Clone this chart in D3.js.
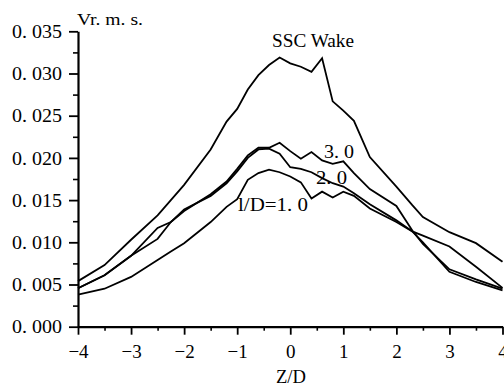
<!DOCTYPE html>
<html>
<head>
<meta charset="utf-8">
<script src="https://cdn.jsdelivr.net/npm/d3@7"></script>
<style>
  html, body { margin: 0; padding: 0; background: #fff; }
  svg { display: block; }
  text { font-family: "Liberation Serif", "DejaVu Serif", serif; fill: #000; }
</style>
</head>
<body>
<div id="chart"></div>
<script>
// Z/D positions shared by all four profiles
const zGrid = [-4, -3.5, -3, -2.5, -2.25, -2, -1.5, -1.2, -1, -0.8, -0.6, -0.4, -0.2, 0,
  0.2, 0.4, 0.6, 0.8, 1, 1.2, 1.5, 2, 2.3, 2.5, 3, 3.5, 4];

const sscWake = [0.0054, 0.0073, 0.0103, 0.0132, 0.0150, 0.0168, 0.0210, 0.0243, 0.0258, 0.0281,
  0.0298, 0.0310, 0.0319, 0.0312, 0.0308, 0.0302, 0.0318, 0.0267, 0.0256, 0.0244,
  0.0201, 0.0166, 0.0144, 0.0130, 0.0112, 0.0099, 0.0077];
const lD30 = [0.00455, 0.0061, 0.0084, 0.0117, 0.0124, 0.0137, 0.0157, 0.0172, 0.0187, 0.0203,
  0.0212, 0.0212, 0.0218, 0.0208, 0.0199, 0.0207, 0.0197, 0.0193, 0.0196, 0.0182,
  0.0163, 0.0143, 0.0114, 0.0098, 0.0068, 0.0056, 0.0045];
const lD20 = [0.00455, 0.0061, 0.0084, 0.0104, 0.0124, 0.0139, 0.0155, 0.0170, 0.0184, 0.0200,
  0.0210, 0.0211, 0.0205, 0.0189, 0.0187, 0.0183, 0.0176, 0.0170, 0.0166, 0.0158,
  0.0145, 0.0126, 0.0113, 0.0100, 0.0065, 0.0053, 0.0043];
const lD10 = [0.0038, 0.0045, 0.0059, 0.0079, 0.0089, 0.0099, 0.0124, 0.0142, 0.0151, 0.0174,
  0.0182, 0.0186, 0.0183, 0.0178, 0.0171, 0.0152, 0.0160, 0.0153, 0.0160, 0.0155,
  0.0140, 0.0124, 0.0113, 0.0108, 0.0095, 0.0071, 0.0046];

const xTicks = [-4, -3, -2, -1, 0, 1, 2, 3, 4];
const xMinor = [-3.5, -2.5, -1.5, -0.5, 0.5, 1.5, 2.5, 3.5];
const yTicks = [0, 0.005, 0.010, 0.015, 0.020, 0.025, 0.030, 0.035];
const yTickLabels = ['0. 000', '0. 005', '0. 010', '0. 015', '0. 020', '0. 025', '0. 030', '0. 035'];
const yMinor = [0.0025, 0.0075, 0.0125, 0.0175, 0.0225, 0.0275, 0.0325];

const width = 504, height = 387;

const svg = d3.select('#chart').append('svg')
  .attr('width', width)
  .attr('height', height);

const x = d3.scaleLinear().domain([-4, 4]).range([78, 502.5]);
const y = d3.scaleLinear().domain([0, 0.035]).range([326.7, 31.3]);

// curves
const line = d3.line()
  .x(d => x(d[0]))
  .y(d => y(d[1]));

[sscWake, lD30, lD20, lD10].forEach(vals => {
  svg.append('path')
    .datum(zGrid.map((z, i) => [z, vals[i]]))
    .attr('d', line)
    .attr('fill', 'none')
    .attr('stroke', '#000')
    .attr('stroke-width', 1.8)
    .attr('stroke-linejoin', 'miter');
});

// axes
const xAxis = svg.append('g')
  .attr('transform', `translate(0,${y(0)})`)
  .call(d3.axisBottom(x).tickValues(xTicks).tickSize(8).tickSizeOuter(0)
    .tickFormat(d => d < 0 ? '\u2212' + Math.abs(d) : d));
xAxis.select('.domain').attr('stroke-width', 2.2);
xAxis.selectAll('.tick line').attr('stroke-width', 1.8);
xAxis.selectAll('.tick text')
  .attr('font-size', 19)
  .attr('dy', 0)
  .attr('y', 31.5)
  .attr('font-family', '"Liberation Serif", serif');

svg.append('g')
  .attr('transform', `translate(0,${y(0)})`)
  .call(d3.axisBottom(x).tickValues(xMinor).tickSize(4).tickFormat(''))
  .call(g => g.select('.domain').remove())
  .selectAll('.tick line').attr('stroke-width', 1.6);

const yAxis = svg.append('g')
  .attr('transform', `translate(${x(-4)},0)`)
  .call(d3.axisLeft(y).tickValues(yTicks).tickSize(9).tickSizeOuter(0)
    .tickFormat((d, i) => yTickLabels[i]));
yAxis.select('.domain').attr('stroke-width', 2.2);
yAxis.selectAll('.tick line').attr('stroke-width', 1.8);
yAxis.selectAll('.tick text')
  .attr('font-size', 18.5)
  .attr('x', -16)
  .attr('dy', '0.34em')
  .attr('textLength', 50)
  .attr('lengthAdjust', 'spacingAndGlyphs')
  .attr('font-family', '"Liberation Serif", serif');

svg.append('g')
  .attr('transform', `translate(${x(-4)},0)`)
  .call(d3.axisLeft(y).tickValues(yMinor).tickSize(5).tickFormat(''))
  .call(g => g.select('.domain').remove())
  .selectAll('.tick line').attr('stroke-width', 1.6);

// titles and curve labels
svg.append('text')
  .attr('x', 77).attr('y', 25)
  .attr('font-size', 17)
  .attr('textLength', 66).attr('lengthAdjust', 'spacingAndGlyphs')
  .text('Vr. m. s.');

svg.append('text')
  .attr('x', 291).attr('y', 383)
  .attr('text-anchor', 'middle')
  .attr('font-size', 18)
  .attr('textLength', 30).attr('lengthAdjust', 'spacingAndGlyphs')
  .text('Z/D');

svg.append('text')
  .attr('x', 272).attr('y', 47)
  .attr('font-size', 19)
  .attr('textLength', 82).attr('lengthAdjust', 'spacingAndGlyphs')
  .text('SSC Wake');

svg.append('text')
  .attr('x', 324).attr('y', 158)
  .attr('font-size', 19)
  .attr('textLength', 30).attr('lengthAdjust', 'spacingAndGlyphs')
  .text('3. 0');

svg.append('text')
  .attr('x', 316).attr('y', 184)
  .attr('font-size', 19)
  .attr('textLength', 31).attr('lengthAdjust', 'spacingAndGlyphs')
  .text('2. 0');

svg.append('text')
  .attr('x', 238).attr('y', 211)
  .attr('font-size', 18)
  .attr('textLength', 70).attr('lengthAdjust', 'spacingAndGlyphs')
  .text('l/D=1. 0');
</script>
</body>
</html>
